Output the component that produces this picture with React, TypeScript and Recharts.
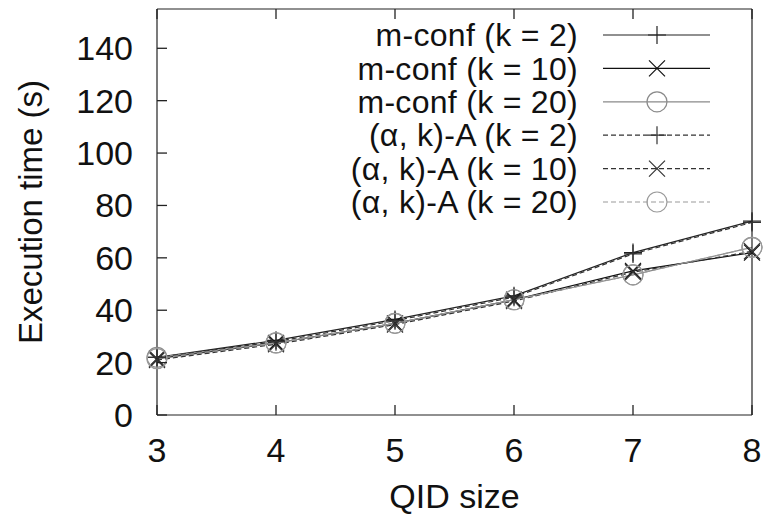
import React from 'react';
import { LineChart, Line, XAxis, YAxis, Legend } from 'recharts';

const qidSizes = [3, 4, 5, 6, 7, 8];
const mConfK2 = [22, 28.5, 36.5, 45.5, 62, 74];
const mConfK10 = [21.5, 27.5, 35, 44, 55, 62];
const mConfK20 = [22, 27.5, 35, 44, 53.5, 64];
const alphaK2 = [22, 28, 36, 45, 61.5, 73.5];
const alphaK10 = [21, 27, 34.5, 43.5, 54.5, 62.5];
const alphaK20 = [21.5, 27.5, 35, 44, 53.5, 64];
const yTicks = [0, 20, 40, 60, 80, 100, 120, 140];

const FONT = '"Liberation Sans", Arial, Helvetica, sans-serif';
const AXIS = '#222';
const TICK_LEN = 10;

const series = [
  { key: 'mConfK2', name: 'm-conf (k = 2)', values: mConfK2, color: '#222', dash: undefined, shape: 'plus' },
  { key: 'mConfK10', name: 'm-conf (k = 10)', values: mConfK10, color: '#111', dash: undefined, shape: 'cross' },
  { key: 'mConfK20', name: 'm-conf (k = 20)', values: mConfK20, color: '#8a8a8a', dash: undefined, shape: 'circle' },
  { key: 'alphaK2', name: '(α, k)-A (k = 2)', values: alphaK2, color: '#333', dash: '5 3', shape: 'plus' },
  { key: 'alphaK10', name: '(α, k)-A (k = 10)', values: alphaK10, color: '#333', dash: '5 3', shape: 'cross' },
  { key: 'alphaK20', name: '(α, k)-A (k = 20)', values: alphaK20, color: '#9a9a9a', dash: '5 3', shape: 'circle' },
];

const data = qidSizes.map((q, i) => {
  const row: Record<string, number> = { qid: q };
  series.forEach((s) => {
    row[s.key] = s.values[i];
  });
  return row;
});

function Marker({ cx, cy, shape, color }: { cx: number; cy: number; shape: string; color: string }) {
  if (cx == null || cy == null) return null;
  if (shape === 'plus') {
    return <path d={`M${cx - 9},${cy}H${cx + 9}M${cx},${cy - 9}V${cy + 9}`} stroke={color} strokeWidth={1.2} fill="none" />;
  }
  if (shape === 'cross') {
    return (
      <path
        d={`M${cx - 8},${cy - 8}L${cx + 8},${cy + 8}M${cx - 8},${cy + 8}L${cx + 8},${cy - 8}`}
        stroke={color}
        strokeWidth={1.2}
        fill="none"
      />
    );
  }
  return <circle cx={cx} cy={cy} r={10} stroke={color} strokeWidth={1.2} fill="none" />;
}

// gnuplot style: ticks point inward, labels outside
const LEFT_MARGIN = 24;
const BOTTOM_MARGIN = 23;

function LeftTick({ x, y, payload }: any) {
  const ax = x + LEFT_MARGIN;
  return (
    <g>
      <line x1={ax} x2={ax + TICK_LEN} y1={y} y2={y} stroke={AXIS} strokeWidth={1.3} />
      <text x={x} y={y} dy="0.35em" textAnchor="end" fontSize={34} fontFamily={FONT} fill="#111">
        {payload.value}
      </text>
    </g>
  );
}

function BottomTick({ x, y, payload }: any) {
  const ay = y - BOTTOM_MARGIN;
  return (
    <g>
      <line x1={x} x2={x} y1={ay} y2={ay - TICK_LEN} stroke={AXIS} strokeWidth={1.3} />
      <text x={x} y={y} dy="0.71em" textAnchor="middle" fontSize={34} fontFamily={FONT} fill="#111">
        {payload.value}
      </text>
    </g>
  );
}

function TopTick({ x, y }: any) {
  return <line x1={x} x2={x} y1={y} y2={y + TICK_LEN} stroke={AXIS} strokeWidth={1.3} />;
}

function RightTick({ x, y }: any) {
  return <line x1={x} x2={x - TICK_LEN} y1={y} y2={y} stroke={AXIS} strokeWidth={1.3} />;
}

function LegendBox() {
  return (
    <svg width={767} height={230} style={{ display: 'block' }}>
      {series.map((s, i) => {
        const y = 35 + i * 33.4;
        return (
          <g key={s.key}>
            <text
              x={578}
              y={y}
              dy="0.35em"
              textAnchor="end"
              fontSize={32}
              letterSpacing={0.3}
              fontFamily={FONT}
              fill="#111"
            >
              {s.name}
            </text>
            <line x1={603} x2={710} y1={y} y2={y} stroke={s.color} strokeWidth={1.2} strokeDasharray={s.dash} />
            <Marker cx={657} cy={y} shape={s.shape} color={s.color} />
          </g>
        );
      })}
    </svg>
  );
}

function YLabel({ viewBox }: any) {
  const x = viewBox.x + 30;
  const y = viewBox.y + viewBox.height / 2;
  return (
    <text
      x={x}
      y={y}
      dy="0.35em"
      textAnchor="middle"
      transform={`rotate(-90, ${x}, ${y})`}
      fontSize={33}
      fontFamily={FONT}
      fill="#111"
    >
      Execution time (s)
    </text>
  );
}

export default function App() {
  return (
    <div style={{ position: 'absolute', left: 0, top: 0, background: '#fff' }}>
      <LineChart width={767} height={517} data={data} margin={{ top: 8, right: 14, bottom: 0, left: 0 }}>
        <XAxis
          xAxisId={0}
          dataKey="qid"
          type="number"
          domain={[3, 8]}
          ticks={qidSizes}
          interval={0}
          height={102}
          tick={<BottomTick />}
          tickLine={false}
          tickSize={0}
          tickMargin={BOTTOM_MARGIN}
          axisLine={{ stroke: AXIS, strokeWidth: 1.2 }}
          label={{ value: 'QID size', position: 'insideBottom', offset: 9, fontSize: 34, fill: '#111', fontFamily: FONT }}
        />
        <XAxis
          xAxisId="top"
          orientation="top"
          dataKey="qid"
          type="number"
          domain={[3, 8]}
          ticks={qidSizes}
          interval={0}
          height={1}
          tick={<TopTick />}
          tickLine={false}
          tickSize={0}
          tickMargin={0}
          axisLine={{ stroke: AXIS, strokeWidth: 1.2 }}
        />
        <YAxis
          yAxisId={0}
          type="number"
          domain={[0, 155]}
          ticks={yTicks}
          interval={0}
          width={157}
          tick={<LeftTick />}
          tickLine={false}
          tickSize={0}
          tickMargin={LEFT_MARGIN}
          axisLine={{ stroke: AXIS, strokeWidth: 1.2 }}
          label={{ content: YLabel }}
        />
        <YAxis
          yAxisId="right"
          orientation="right"
          type="number"
          domain={[0, 155]}
          ticks={yTicks}
          interval={0}
          width={1}
          tick={<RightTick />}
          tickLine={false}
          tickSize={0}
          tickMargin={0}
          axisLine={{ stroke: AXIS, strokeWidth: 1.2 }}
        />
        {series.map((s) => (
          <Line
            key={s.key}
            xAxisId={0}
            yAxisId={0}
            dataKey={s.key}
            name={s.name}
            stroke={s.color}
            strokeWidth={1.2}
            strokeDasharray={s.dash}
            isAnimationActive={false}
            dot={(props: any) => (
              <Marker key={`${s.key}-${props.index}`} cx={props.cx} cy={props.cy} shape={s.shape} color={s.color} />
            )}
            activeDot={false}
          />
        ))}
        <Legend
          layout="vertical"
          align="center"
          verticalAlign="middle"
          content={<LegendBox />}
          wrapperStyle={{ left: 0, top: 0, width: 767, height: 230, pointerEvents: 'none' }}
        />
      </LineChart>
    </div>
  );
}
